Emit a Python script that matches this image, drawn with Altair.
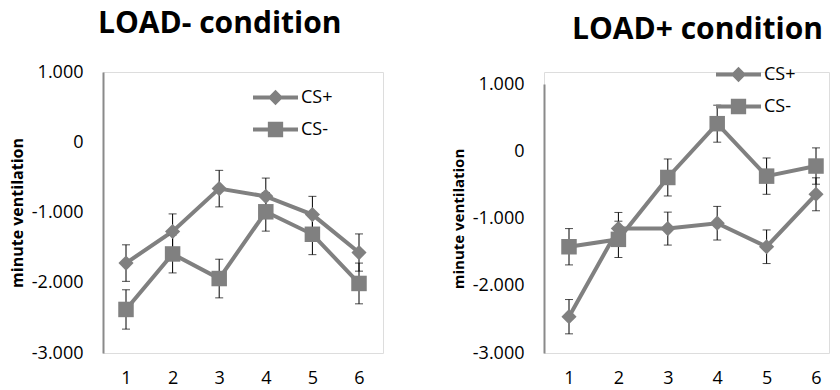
import altair as alt
import pandas as pd

# ---------------- data ----------------
sessions = [1, 2, 3, 4, 5, 6]
series_names = ["CS+", "CS-"]

load_minus_cs_plus = [-1720, -1270, -660, -770, -1030, -1570]
load_minus_cs_plus_err = [260, 250, 260, 260, 260, 265]
load_minus_cs_minus = [-2380, -1590, -1940, -990, -1310, -2010]
load_minus_cs_minus_err = [280, 270, 275, 275, 290, 290]

load_plus_cs_plus = [-2460, -1150, -1150, -1070, -1420, -640]
load_plus_cs_plus_err = [255, 240, 245, 250, 250, 245]
load_plus_cs_minus = [-1420, -1310, -390, 410, -370, -220]
load_plus_cs_minus_err = [270, 270, 275, 275, 270, 270]

y_ticks = [-3000, -2000, -1000, 0, 1000]
titles = ["LOAD- condition", "LOAD+ condition"]
y_title = "minute ventilation"

# ---------------- styles ----------------
FONT = "Open Sans"
GRAY = "#808080"
AXIS_GRAY = "#8a8a8a"

LEG_DIAMOND = ("M-1,-0.09L1,-0.09L1,0.09L-1,0.09Z "
               "M0,-0.34L0.34,0L0,0.34L-0.34,0Z")
LEG_SQUARE = ("M-1,-0.09L1,-0.09L1,0.09L-1,0.09Z "
              "M-0.34,-0.34L0.34,-0.34L0.34,0.34L-0.34,0.34Z")

LABEL_EXPR = ("datum.value == 0 ? '0' : (datum.value < 0 ? '-' : '') + "
              "format(abs(datum.value) / 1000, 'd') + '.000'")


def make_df(cp, cpe, cm, cme):
    rows = []
    for s, v, e in zip(sessions, cp, cpe):
        rows.append({"session": s, "series": "CS+", "value": v, "lo": v - e, "hi": v + e})
    for s, v, e in zip(sessions, cm, cme):
        rows.append({"session": s, "series": "CS-", "value": v, "lo": v - e, "hi": v + e})
    return pd.DataFrame(rows)


def panel(df, title, title_dx, title_offset, width, x_range, y_range,
          leg_x, leg_y, leg_row_pad, axis_title_size):
    x = alt.X("session:O",
              scale=alt.Scale(type="point", range=x_range, padding=0),
              axis=alt.Axis(title=None, labelAngle=0, domain=False, ticks=False,
                            grid=False, labelPadding=16, labelFont=FONT,
                            labelFontSize=18, labelColor="black"))
    yscale = alt.Scale(domain=[-3000, 1000], range=y_range, nice=False, zero=False)
    y = alt.Y("value:Q", scale=yscale,
              axis=alt.Axis(values=y_ticks, labelExpr=LABEL_EXPR, ticks=False,
                            grid=False, domainColor=AXIS_GRAY, domainWidth=2,
                            labelPadding=20, labelFont=FONT, labelFontSize=18,
                            labelColor="black", title=y_title, titleFont=FONT,
                            titleFontSize=axis_title_size, titleFontWeight="bold",
                            titleColor="black", titlePadding=6))
    base = alt.Chart(df)
    lines = base.mark_line(color=GRAY, strokeWidth=4).encode(x=x, y=y, detail="series:N")
    err = base.mark_rule(color="black", strokeWidth=1).encode(
        x=x, y=alt.Y("lo:Q", scale=yscale), y2="hi:Q")
    cap_lo = base.mark_tick(color="black", thickness=1, size=8).encode(
        x=x, y=alt.Y("lo:Q", scale=yscale))
    cap_hi = base.mark_tick(color="black", thickness=1, size=8).encode(
        x=x, y=alt.Y("hi:Q", scale=yscale))
    diamonds = base.transform_filter(alt.datum.series == "CS+").mark_point(
        shape="diamond", filled=True, size=230, color=GRAY, opacity=1).encode(x=x, y=y)
    squares = base.transform_filter(alt.datum.series == "CS-").mark_point(
        shape="square", filled=True, size=240, color=GRAY, opacity=1).encode(x=x, y=y)
    legend_layer = base.transform_filter("false").mark_point(
        filled=True, color=GRAY, size=2025, opacity=1).encode(
        shape=alt.Shape("series:N",
                        scale=alt.Scale(domain=series_names, range=[LEG_DIAMOND, LEG_SQUARE]),
                        legend=alt.Legend(orient="none", legendX=leg_x, legendY=leg_y,
                                          title=None, labelFont=FONT, labelFontSize=18,
                                          labelColor="black", labelOffset=3,
                                          symbolStrokeWidth=0, symbolFillColor=GRAY,
                                          symbolOpacity=1, rowPadding=leg_row_pad,
                                          symbolSize=2025)))
    return alt.layer(lines, err, cap_lo, cap_hi, diamonds, squares, legend_layer).properties(
        width=width, height=281,
        title=alt.TitleParams(title, font=FONT, fontSize=30, fontWeight="bold",
                              color="black", anchor="start", frame="group",
                              dx=title_dx, offset=title_offset, baseline="alphabetic"))


left = panel(make_df(load_minus_cs_plus, load_minus_cs_plus_err,
                     load_minus_cs_minus, load_minus_cs_minus_err),
             titles[0], -5, 0, 280, [23, 256], [281, 0], 150, 3, -2, 16)
right = panel(make_df(load_plus_cs_plus, load_plus_cs_plus_err,
                      load_plus_cs_minus, load_plus_cs_minus_err),
              titles[1], 28, -17, 285, [25, 272], [281, 12], 172, -20, -4, 15)

chart = alt.hconcat(left, right, spacing=66).resolve_scale(
    x="independent", y="independent", shape="independent").resolve_legend(
    shape="independent").properties(
    padding={"left": 0, "top": 0, "right": 0, "bottom": 0}).configure_view(
    stroke=None).configure(font=FONT)

chart.save("out.html", embed_options={"renderer": "svg", "actions": False})
